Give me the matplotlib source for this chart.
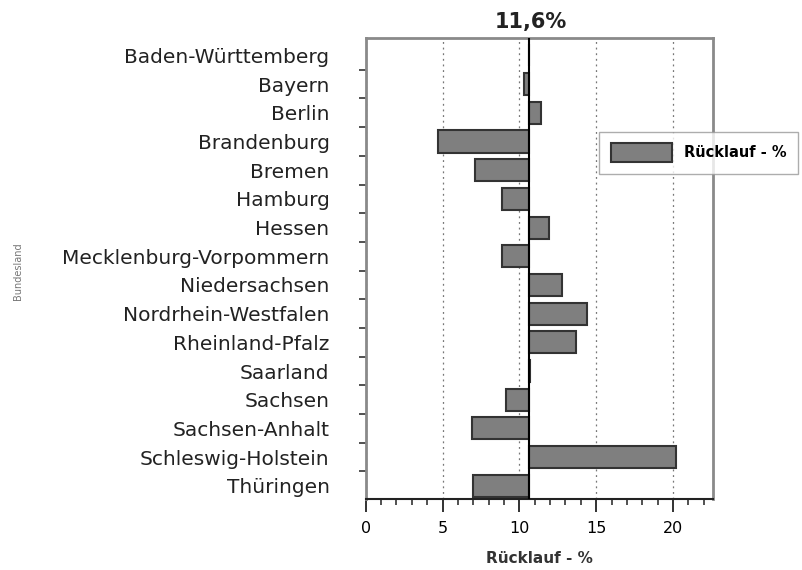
import numpy as np
import matplotlib.pyplot as plt
from matplotlib.ticker import MultipleLocator

plt.rcParams['font.family'] = ['DejaVu Sans']

laender = ['Baden-Württemberg', 'Bayern', 'Berlin', 'Brandenburg', 'Bremen',
           'Hamburg', 'Hessen', 'Mecklenburg-Vorpommern', 'Niedersachsen',
           'Nordrhein-Westfalen', 'Rheinland-Pfalz', 'Saarland', 'Sachsen',
           'Sachsen-Anhalt', 'Schleswig-Holstein', 'Thüringen']
ruecklauf = [10.6, 10.3, 11.4, 4.7, 7.1, 8.9, 11.9, 8.9, 12.8,
             14.4, 13.7, 10.7, 9.1, 6.9, 20.2, 7.0]
basis = 10.6
titel = '11,6%'

fig = plt.figure(figsize=(8.02, 5.70), dpi=100)
ax = fig.add_axes([0.456, 0.125, 0.433, 0.808])

y = np.arange(len(laender))
werte = np.array(ruecklauf)
bars = ax.barh(y, werte - basis, left=basis, height=0.77, color='#7f7f7f',
               edgecolor='#333333', linewidth=1.5, label='Rücklauf - %', zorder=3)
ax.axvline(basis, color='black', lw=1.5, zorder=4)

ax.set_xlim(0, 22.6)
ax.set_ylim(len(laender) - 0.55, -0.6)
ax.set_yticks(y)
ax.set_yticklabels(laender, fontsize=14.5, color='#222222')
ax.set_yticks(y[:-1] + 0.5, minor=True)
ax.tick_params(axis='y', which='major', length=0, pad=26)
ax.tick_params(axis='y', which='minor', length=5, width=1.2, color='#333333')

ax.xaxis.set_major_locator(MultipleLocator(5))
ax.xaxis.set_minor_locator(MultipleLocator(1))
ax.tick_params(axis='x', which='major', length=9, width=1.3, labelsize=11.5,
               color='#222222', pad=7)
ax.tick_params(axis='x', which='minor', length=4, width=1.2, color='#333333')
ax.grid(axis='x', which='major', ls=(0, (1.5, 3)), color='#777777', lw=0.9, zorder=0)

for s in ['top', 'right', 'left']:
    ax.spines[s].set_color('#8a8a8a')
    ax.spines[s].set_linewidth(2)
ax.spines['bottom'].set_color('#222222')
ax.spines['bottom'].set_linewidth(1.5)

ax.set_xlabel('Rücklauf - %', fontsize=11, fontweight='bold', color='#333333',
              labelpad=11)
fig.text(0.022, 0.525, 'Bundesland', rotation=90, fontsize=7, color='#777777',
         ha='center', va='center')
fig.text(0.662, 0.962, titel, fontsize=15, fontweight='bold', ha='center',
         va='center', color='#222222')

fig.legend(handles=[bars], loc='upper left', bbox_to_anchor=(0.738, 0.782),
           prop={'weight': 'bold', 'size': 10.5}, frameon=True,
           fancybox=False, edgecolor='#999999',
           handlelength=4.2, handleheight=1.6, borderpad=0.8)

fig.savefig('out.png', dpi=100)
